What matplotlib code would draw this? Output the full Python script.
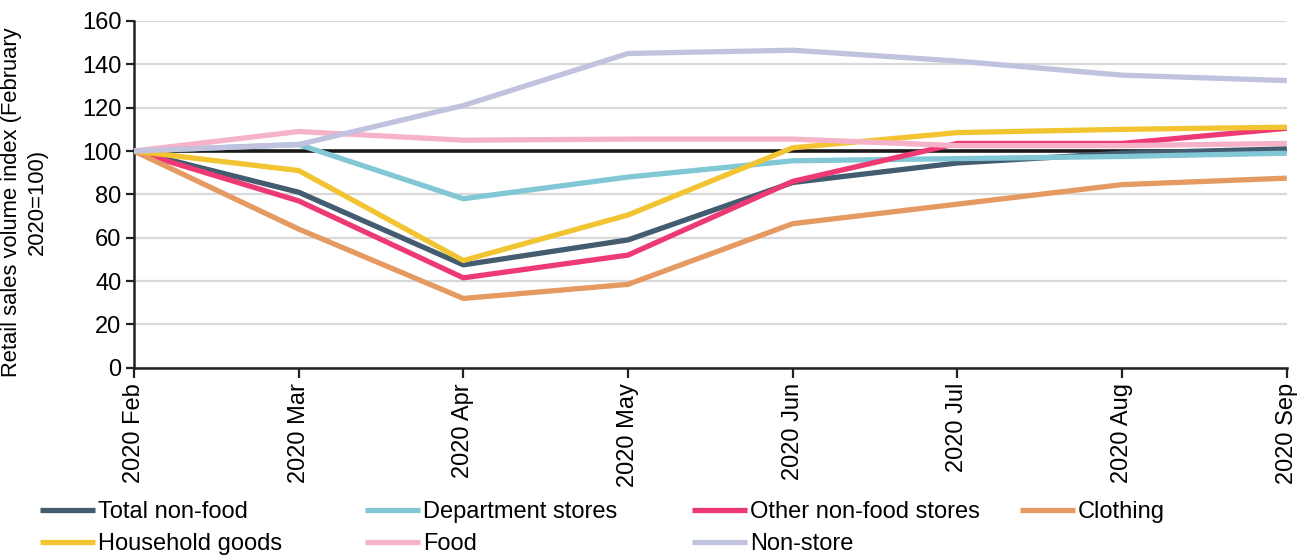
import matplotlib
matplotlib.use("Agg")
import matplotlib.pyplot as plt

months = ["2020 Feb", "2020 Mar", "2020 Apr", "2020 May",
          "2020 Jun", "2020 Jul", "2020 Aug", "2020 Sep"]

total_non_food = [100, 81, 47.5, 59, 85.5, 94.5, 99, 101]
department_stores = [100, 103, 78, 88, 95.5, 96.5, 97.5, 99]
other_non_food = [100, 77, 41.5, 52, 86, 103.5, 103.5, 110.5]
clothing = [100, 64, 32, 38.5, 66.5, 75.5, 84.5, 87.5]
household_goods = [100, 91, 49.5, 70.5, 101.5, 108.5, 110, 111]
food = [100, 109, 105, 105.5, 105.5, 102.5, 102.5, 103.5]
non_store = [100, 103, 121, 145, 146.5, 141.5, 135, 132.5]
baseline = [100] * len(months)

series = [
    ("Total non-food", total_non_food, "#435c70"),
    ("Department stores", department_stores, "#82c7d6"),
    ("Other non-food stores", other_non_food, "#ee3a74"),
    ("Clothing", clothing, "#e59a62"),
    ("Household goods", household_goods, "#f2c431"),
    ("Food", food, "#f6b2c8"),
    ("Non-store", non_store, "#c0c2de"),
]

plt.rcParams["font.family"] = ["Liberation Sans", "DejaVu Sans"]

fig = plt.figure(figsize=(13.16, 5.59), dpi=100)
ax = fig.add_axes([0.1018, 0.342, 0.876, 0.6205])

x = list(range(len(months)))
ax.plot(x, baseline, color="#1a1a1a", lw=2.6, zorder=2)
handles = {}
for name, vals, col in series:
    h, = ax.plot(x, vals, color=col, lw=3.8, label=name, zorder=3,
                 solid_capstyle="butt")
    handles[name] = h

ax.set_xlim(0, len(months) - 1)
ax.set_ylim(0, 160)
ax.set_yticks(range(0, 161, 20))
ax.set_xticks(x)
ax.set_xticklabels(months, rotation=90, fontsize=17)
ax.tick_params(axis="y", labelsize=17, length=6, width=1.6, color="#222222",
               pad=3)
ax.tick_params(axis="x", length=7, width=1.6, color="#222222", pad=4)
ax.yaxis.grid(True, color="#d9d9d9", lw=1.6)
ax.set_axisbelow(True)
for s in ["top", "right"]:
    ax.spines[s].set_visible(False)
for s in ["left", "bottom"]:
    ax.spines[s].set_linewidth(1.8)
    ax.spines[s].set_color("#222222")
ax.set_ylabel("Retail sales volume index (February\n2020=100)", fontsize=15.8,
              linespacing=1.3)
ax.yaxis.set_label_coords(-0.0745, 0.478)

# legend laid out as four fixed-width columns, like the source chart
columns = [["Total non-food", "Household goods"],
           ["Department stores", "Food"],
           ["Other non-food stores", "Non-store"],
           ["Clothing"]]
col_x = [40, 365, 692, 1020]
for names, px in zip(columns, col_x):
    fig.legend([handles[n] for n in names], names, loc="upper left",
               bbox_to_anchor=(px / 1316, 1 - 501 / 559), frameon=False,
               fontsize=17, handlelength=2.35, handletextpad=0.1,
               labelspacing=0.42, borderpad=0, borderaxespad=0)

fig.savefig("out.png", dpi=100)
